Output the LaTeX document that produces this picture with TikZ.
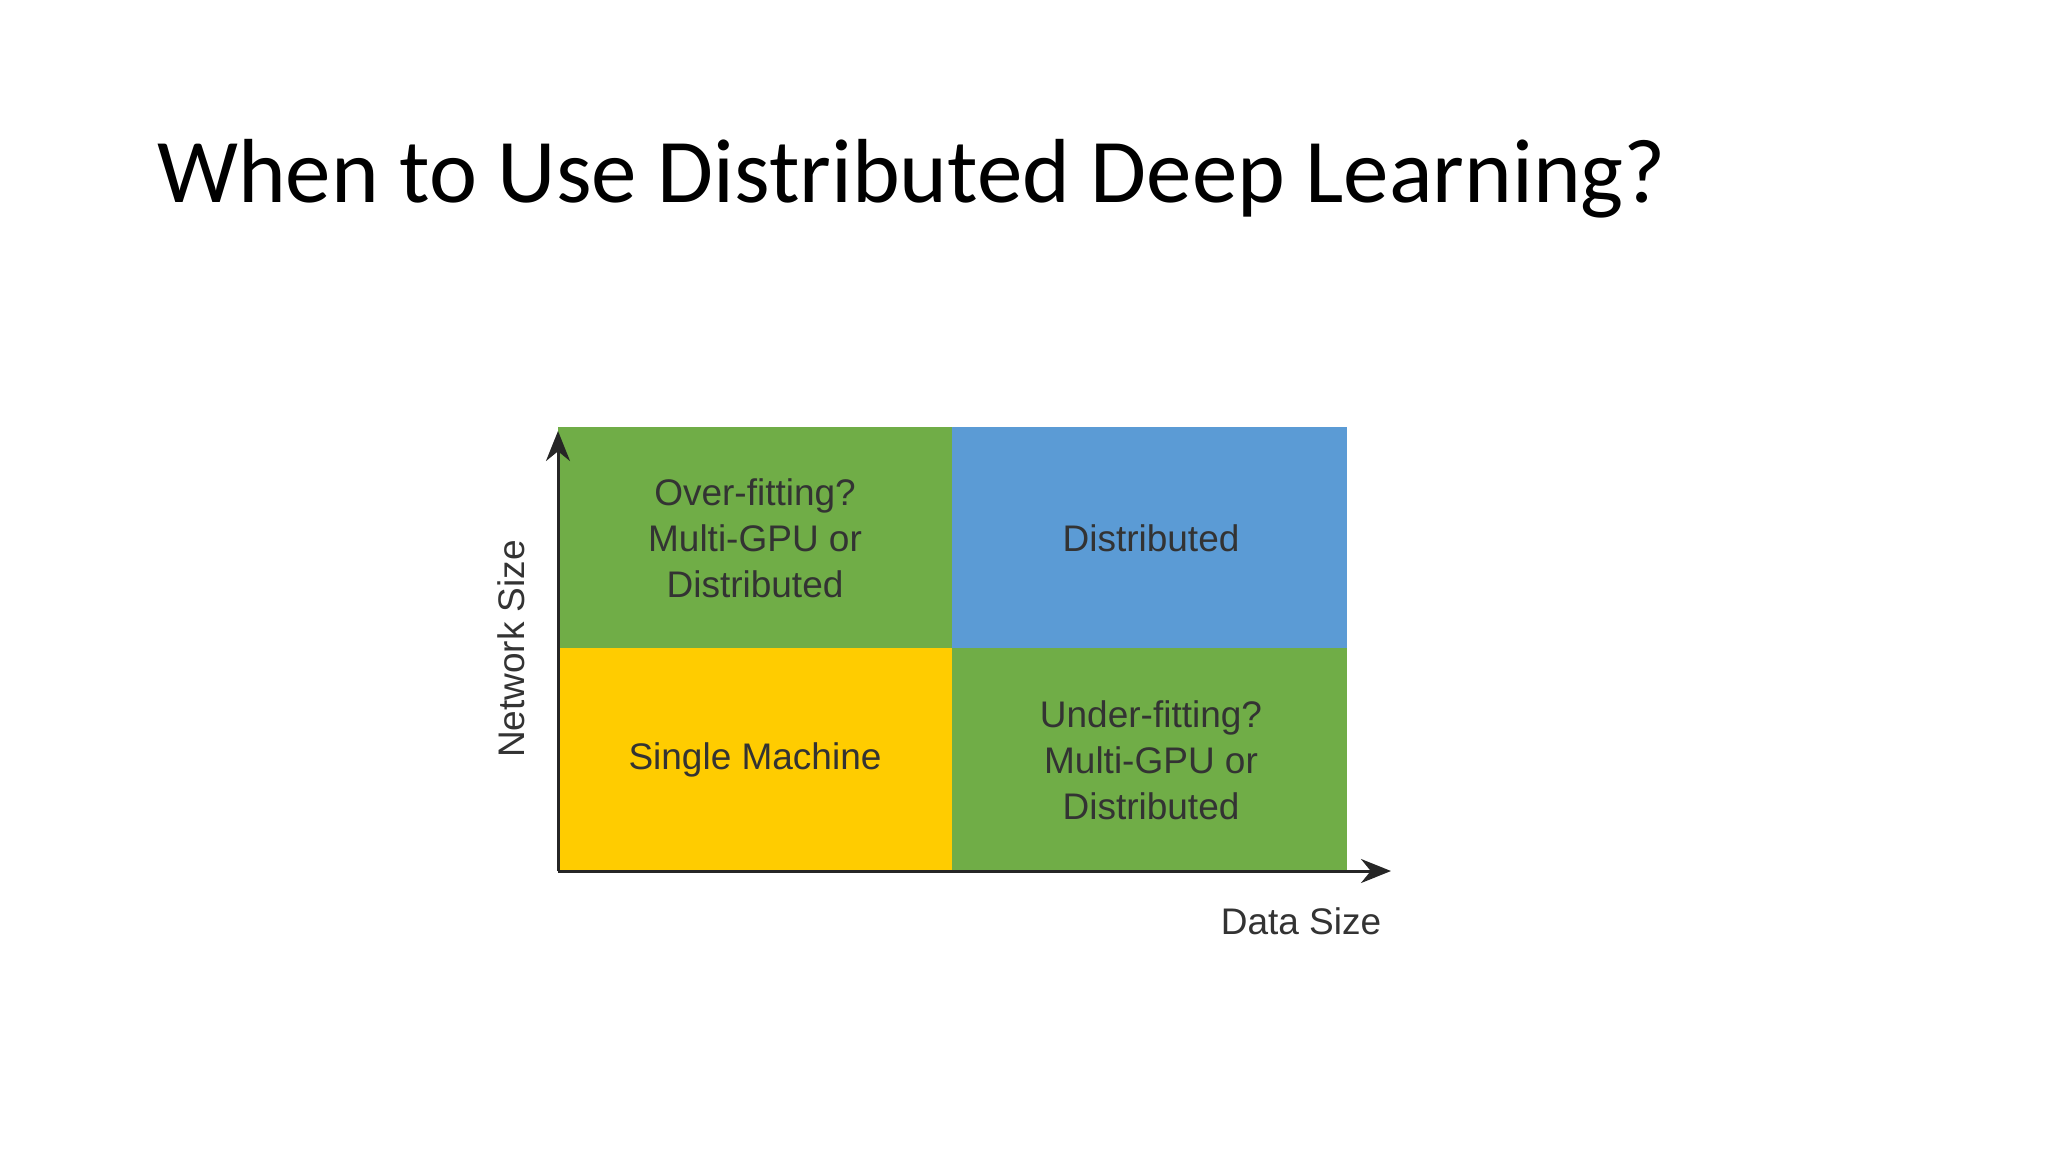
\documentclass[tikz,border=0pt]{standalone}
\usepackage{fontspec}
\setmainfont{Liberation Sans}
\newfontfamily\titlefont{Carlito}
\usetikzlibrary{arrows.meta}
\definecolor{cgreen}{HTML}{70AD47}
\definecolor{cblue}{HTML}{5B9BD5}
\definecolor{cyellow}{HTML}{FFCC00}
\definecolor{ctext}{HTML}{333333}
\begin{document}
\begin{tikzpicture}[x=1pt,y=-1pt,
  cell/.style={inner sep=0pt,outer sep=0pt},
  lbl/.style={text=ctext,align=center,font=\fontsize{37}{46}\selectfont},
  axis/.style={line width=3pt,draw=black!85,-{Stealth[length=30pt,width=24pt]}}]
\useasboundingbox (0,0) rectangle (2048,1152);
\fill[white] (0,0) rectangle (2048,1152);
\node[anchor=base west,inner sep=0pt,font=\titlefont\fontsize{91}{96}\selectfont] (title) at (157,202) {When to Use Distributed Deep Learning?};
\fill[cgreen] (558,427) rectangle (952,648);
\fill[cblue] (952,427) rectangle (1347,648);
\fill[cyellow] (558,648) rectangle (952,871);
\fill[cgreen] (952,648) rectangle (1347,871);
\node[lbl] (tl) at (755,538) {Over-fitting?\\Multi-GPU or\\Distributed};
\node[lbl] (tr) at (1151,538) {Distributed};
\node[lbl] (bl) at (755,760) {Single Machine};
\node[lbl] (br) at (1151,760) {Under-fitting?\\Multi-GPU or\\Distributed};
\coordinate (o) at (558,871);
\coordinate (ytip) at (558,431);
\coordinate (xtip) at (1391,871);
\draw[axis] (o) -- (ytip);
\draw[axis] (o) -- (xtip);
\node[lbl,rotate=90] (ny) at (511,649) {Network Size};
\node[lbl] (dx) at (1301,921) {Data Size};
\end{tikzpicture}
\end{document}
